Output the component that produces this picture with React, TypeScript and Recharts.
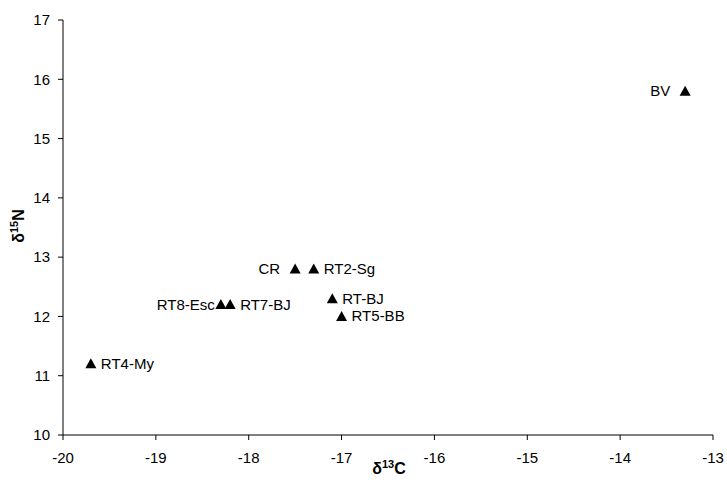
import React from "react";
import {
  ScatterChart,
  Scatter,
  XAxis,
  YAxis,
  LabelList,
} from "recharts";

const names = ["BV", "CR", "RT2-Sg", "RT8-Esc", "RT7-BJ", "RT-BJ", "RT5-BB", "RT4-My"];
const carbon = [-13.3, -17.5, -17.3, -18.3, -18.2, -17.1, -17.0, -19.7];
const nitrogen = [15.8, 12.8, 12.8, 12.2, 12.2, 12.3, 12.0, 11.2];

// labels drawn to the left of their marker, with the gap used
const leftGap: Record<string, number> = { BV: 15, CR: 15, "RT8-Esc": 6 };

const xTicks = [-20, -19, -18, -17, -16, -15, -14, -13];
const yTicks = [10, 11, 12, 13, 14, 15, 16, 17];

const data = names.map((name, i) => ({ name, x: carbon[i], y: nitrogen[i] }));

const FONT = "'Liberation Sans', Arial, sans-serif";

const Triangle = (props: any) => {
  const { cx, cy } = props;
  return (
    <path
      d={`M${cx},${cy - 5.5} L${cx + 5.5},${cy + 4.5} L${cx - 5.5},${cy + 4.5} Z`}
      fill="#000"
    />
  );
};

const PointLabel = (props: any) => {
  const { x, y, width, height, value } = props;
  const cx = x + width / 2;
  const cy = y + height / 2;
  const gap = leftGap[value];
  const left = gap !== undefined;
  return (
    <text
      x={left ? cx - gap : cx + 10}
      y={cy + 1}
      textAnchor={left ? "end" : "start"}
      dominantBaseline="middle"
      fontSize={15}
      fontFamily={FONT}
      fill="#000"
    >
      {value}
    </text>
  );
};

export default function App() {
  return (
    <div style={{ position: "absolute", left: 0, top: 0, background: "#fff" }}>
      <ScatterChart
        width={727}
        height={492}
        margin={{ top: 20, right: 14, bottom: 27, left: 23 }}
      >
        <XAxis
          type="number"
          dataKey="x"
          domain={[-20, -13]}
          ticks={xTicks}
          tickSize={5}
          tickMargin={12}
          height={30}
          stroke="#000"
          tick={{ fill: "#000", fontSize: 15, fontFamily: FONT }}
          label={() => (
            <text
              x={389}
              y={474}
              textAnchor="middle"
              fontSize={16}
              fontWeight="bold"
              fontFamily={FONT}
              fill="#000"
            >
              δ<tspan fontSize={11} dy={-6}>13</tspan>
              <tspan dy={6}>C</tspan>
            </text>
          )}
        />
        <YAxis
          type="number"
          dataKey="y"
          domain={[10, 17]}
          ticks={yTicks}
          tickSize={5}
          tickMargin={8}
          width={40}
          stroke="#000"
          tick={{ fill: "#000", fontSize: 15, fontFamily: FONT }}
          label={() => (
            <text
              x={0}
              y={0}
              transform="translate(24,226) rotate(-90)"
              textAnchor="middle"
              fontSize={16}
              fontWeight="bold"
              fontFamily={FONT}
              fill="#000"
            >
              δ<tspan fontSize={11} dy={-6}>15</tspan>
              <tspan dy={6}>N</tspan>
            </text>
          )}
        />
        <Scatter data={data} shape={<Triangle />} isAnimationActive={false}>
          <LabelList dataKey="name" content={<PointLabel />} />
        </Scatter>
      </ScatterChart>
    </div>
  );
}
